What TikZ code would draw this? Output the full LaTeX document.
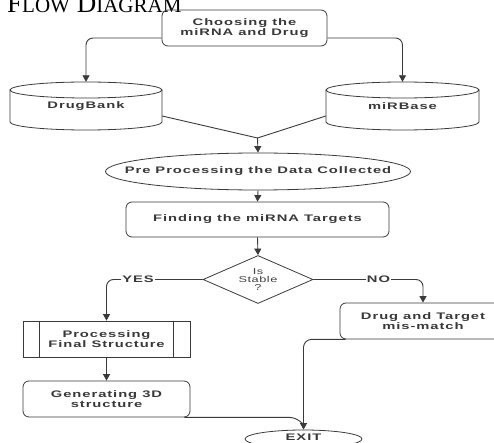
\documentclass[tikz,border=0pt]{standalone}
\usepackage{fontspec}
\setmainfont{Liberation Sans}
\newfontfamily\bfont[FakeStretch=1.55,LetterSpace=10]{Liberation Sans}
\newfontfamily\rfont[FakeStretch=1.5,LetterSpace=6]{Liberation Sans}
\newfontfamily\tfont{Liberation Serif}
\usetikzlibrary{shapes.geometric,arrows.meta,calc}
\definecolor{lc}{HTML}{3A3A3A}
\begin{document}
\begin{tikzpicture}[x=1pt,y=-1pt,
  txt/.style={font=\bfont\bfseries\fontsize{9.5}{9.8}\selectfont, text=black!78, align=center, inner sep=0pt},
  rbox/.style={txt, draw=lc, line width=0.8pt, rounded corners=6pt, minimum width=166pt, minimum height=36pt},
  pbox/.style={txt, draw=lc, line width=0.8pt, minimum width=167pt, minimum height=36pt},
  oval/.style={ellipse, draw=lc, line width=0.8pt, inner sep=0pt},
  line/.style={draw=lc, line width=0.9pt},
  arr/.style={line, -{Triangle[length=6.5pt,width=7pt]}},
  lbl/.style={txt, fill=white, inner xsep=1pt}
]
\useasboundingbox (0,0) rectangle (494,443);

% title
\node[anchor=base west, inner sep=0pt] (title) at (7,13)
  {\tfont\fontsize{27}{27}\selectfont F{\fontsize{21}{21}\selectfont LOW} D{\fontsize{21}{21}\selectfont IAGRAM}};

% nodes
\node[rbox, minimum width=165pt] (choose) at (244.5,28) {Choosing the\\miRNA and Drug};

\node[txt, minimum width=152pt, minimum height=48pt] (db) at (86,106) {DrugBank};
\node[txt, minimum width=153pt, minimum height=48pt] (mb) at (402.5,106) {miRBase};

% cylinders
\draw[line, line width=0.8pt] (86,90) ellipse [x radius=76, y radius=8];
\draw[line, line width=0.8pt] (10,90) -- (10,122) arc[start angle=180, end angle=0, x radius=76, y radius=8] -- (162,90);
\draw[line, line width=0.8pt] (402.5,90) ellipse [x radius=76.5, y radius=8];
\draw[line, line width=0.8pt] (326,90) -- (326,122) arc[start angle=180, end angle=0, x radius=76.5, y radius=8] -- (479,90);

\node[oval, minimum width=305pt, minimum height=37pt] (pre) at (258,171.5) {};
\node[txt] (pretxt) at (pre.center) {Pre Processing the Data Collected};

\node[rbox, minimum width=263pt, minimum height=35pt] (find) at (257.5,219.5) {Finding the miRNA Targets};

\node[diamond, draw=lc, line width=0.8pt, aspect=2.3, inner sep=0pt, minimum width=110pt, minimum height=48pt,
  font=\rfont\fontsize{8.5}{8.3}\selectfont, align=center, text=black!75] (dia) at (258,279.5) {Is\\Stable\\?};

\node[pbox] (proc) at (106.5,339) {Processing\\Final Structure};
\draw[line, line width=0.8pt] ($(proc.north west)+(17,0)$) -- ($(proc.south west)+(17,0)$);
\draw[line, line width=0.8pt] ($(proc.north east)+(-17,0)$) -- ($(proc.south east)+(-17,0)$);

\node[rbox, minimum width=167pt] (gen) at (106.5,399) {Generating 3D\\structure};

\node[rbox, minimum width=166pt] (mis) at (423,321) {Drug and Target\\mis-match};

\node[oval, minimum width=117pt, minimum height=18pt] (exit) at (303.5,439) {};
\node[txt] (exittxt) at (303.5,437.5) {EXIT};

% connectors
\draw[arr, rounded corners=7pt] ($(choose.west)+(0,10)$) -| (db.north);
\draw[arr, rounded corners=7pt] ($(choose.east)+(0,10)$) -| (mb.north);

\coordinate (m) at (257.5,138);
\draw[line] ($(db.east)+(0,10)$) -- (m) -- ($(mb.west)+(0,10)$);
\draw[arr] (m) -- (pre.north);

\draw[arr] (pre.south) -- (find.north);
\draw[arr] (find.south) -- (dia.north);

\draw[arr, rounded corners=7pt] (dia.west) -| (proc.north);
\draw[arr, rounded corners=7pt] (dia.east) -| (mis.north);
\node[lbl] (yes) at (138,279) {YES};
\node[lbl] (no) at (378.5,279) {NO};

\draw[arr] (proc.south) -- (gen.north);

\draw[arr, rounded corners=8pt] ($(mis.south west)+(6,0)$) -| (exit.north);
\draw[line, rounded corners=6pt] ($(gen.south east)+(-6,0)$) -- ($(exit.north |- gen.south)+(-8,0)$) -- ($(exit.north |- gen.south)+(0,7)$);

\end{tikzpicture}
\end{document}
